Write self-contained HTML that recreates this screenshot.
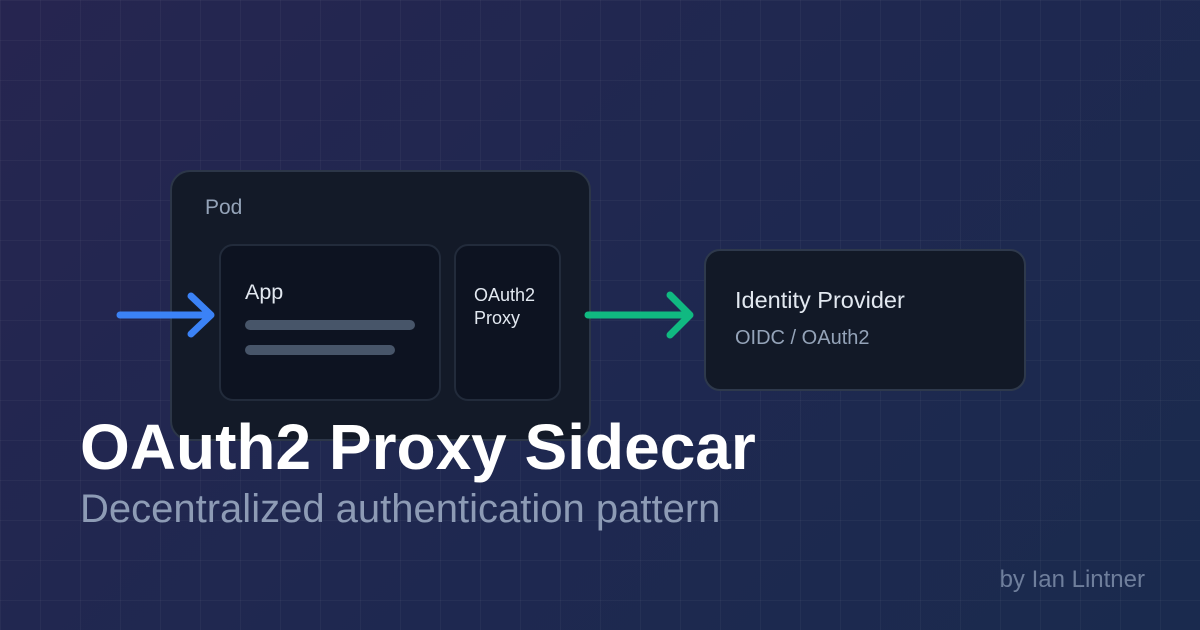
<!DOCTYPE html>
<html><head><meta charset="utf-8"><style>
html,body{margin:0;padding:0}
body{width:1200px;height:630px;overflow:hidden;position:relative;font-family:"Liberation Sans",Arial,sans-serif;
background:linear-gradient(135deg,#262550 0%,#1f2850 50%,#1a2a4e 100%);}
.grid{position:absolute;inset:0;background-image:linear-gradient(rgba(255,255,255,0.035) 1px,transparent 1px),linear-gradient(90deg,rgba(255,255,255,0.035) 1px,transparent 1px);background-size:40px 40px;}
.box{position:absolute;box-sizing:border-box;}
.t{position:absolute;white-space:nowrap;line-height:1}
</style></head><body>
<div class="grid"></div>
<div class="box" style="left:170px;top:170px;width:421px;height:271px;border-radius:20px;background:#131a28;border:2px solid #2c3648"></div>
<div class="t" style="left:205px;top:197px;font-size:21px;color:#94a3b8">Pod</div>
<div class="box" style="left:219px;top:244px;width:222px;height:157px;border-radius:14px;background:#0d1321;border:2px solid #222b3b"></div>
<div class="t" style="left:245px;top:282px;font-size:21.5px;color:#e2e8f0">App</div>
<div class="box" style="left:245px;top:320px;width:170px;height:10px;border-radius:5px;background:#475569"></div>
<div class="box" style="left:245px;top:345px;width:150px;height:10px;border-radius:5px;background:#475569"></div>
<div class="box" style="left:454px;top:244px;width:107px;height:157px;border-radius:14px;background:#0d1321;border:2px solid #222b3b"></div>
<div class="t" style="left:474px;top:284px;font-size:18px;line-height:23px;color:#e2e8f0">OAuth2<br>Proxy</div>
<div class="box" style="left:704px;top:249px;width:322px;height:142px;border-radius:16px;background:#121927;border:2px solid #2e394c"></div>
<div class="t" style="left:735px;top:289px;font-size:23.5px;color:#e2e8f0">Identity Provider</div>
<div class="t" style="left:735px;top:328px;font-size:20px;color:#94a3b8">OIDC / OAuth2</div>
<svg width="1200" height="630" style="position:absolute;left:0;top:0">
<g fill="none" stroke-linecap="round" stroke-linejoin="round" stroke-width="7">
<path d="M120 315H210M191 296L211 315L191 334" stroke="#3b82f6"/>
<path d="M588 315H690M670 295L690 315L670 335" stroke="#10b981"/>
</g></svg>
<div class="t" style="left:80px;top:415px;font-size:64px;font-weight:bold;color:#ffffff">OAuth2 Proxy Sidecar</div>
<div class="t" style="left:80px;top:489px;font-size:40px;color:#8d9bb5">Decentralized authentication pattern</div>
<div class="t" style="right:55px;top:568px;font-size:24px;color:#6f7f9c">by Ian Lintner</div>
</body></html>
